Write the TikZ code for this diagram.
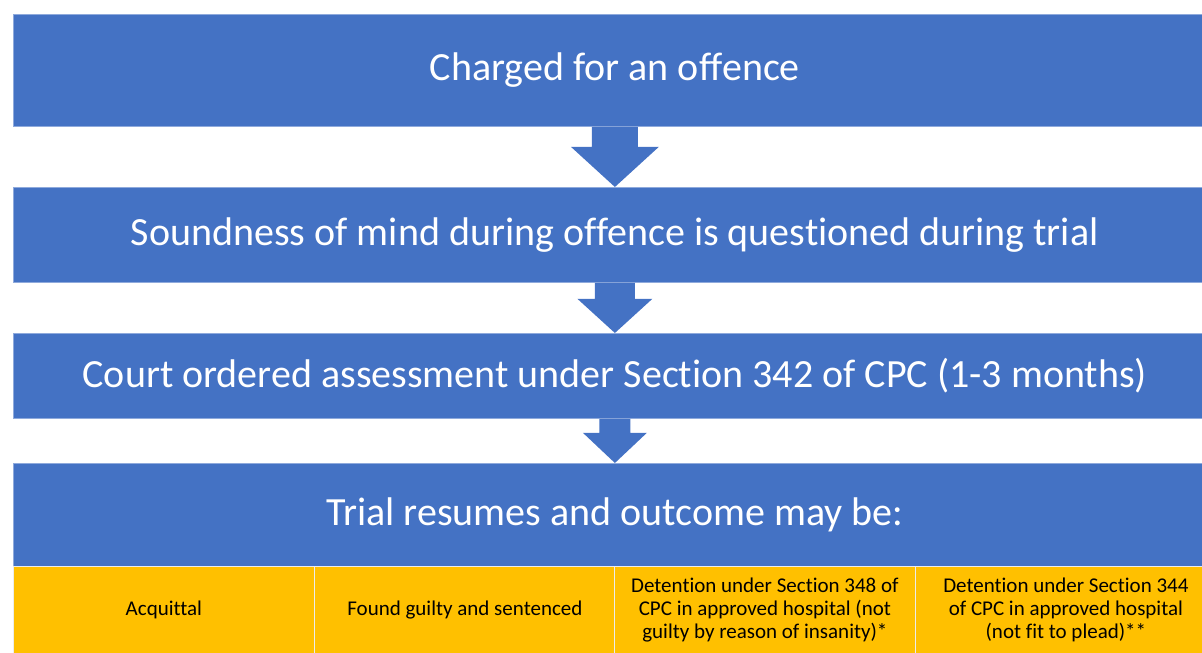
\documentclass[tikz,border=0pt]{standalone}
\usepackage{fontspec}
\setmainfont{Carlito}[Ligatures={NoCommon}]
\usetikzlibrary{calc}
\definecolor{bblue}{HTML}{4472C4}
\definecolor{byellow}{HTML}{FFC000}
\tikzset{
  bluebox/.style={fill=bblue, draw=bblue!60!white, line width=0.8pt, text=white, minimum width=1203pt, inner sep=0pt, anchor=north west, font=\fontsize{40}{46}\selectfont},
  cell/.style={fill=byellow, draw=white!85!gray, line width=0.8pt, text=black, minimum width=301pt, minimum height=87pt, inner sep=0pt, anchor=north west, align=center, font=\fontsize{21}{23}\selectfont},
}
\newcommand{\blockarrow}[5]{%
  \fill[bblue] let \p1=(#1.south), \p2=(#2.north) in
    ($(\x1-#3pt,\y1)$) -- ($(\x1-#3pt,\y1-#5pt)$) -- ($(\x1-#4pt,\y1-#5pt)$) -- (\x1,\y2)
    -- ($(\x1+#4pt,\y1-#5pt)$) -- ($(\x1+#3pt,\y1-#5pt)$) -- ($(\x1+#3pt,\y1)$) -- cycle;}
\begin{document}
\begin{tikzpicture}[x=1pt,y=-1pt]
\useasboundingbox (0,0) rectangle (1202,653);
\clip (0,0) rectangle (1202,653);
\node[bluebox, minimum height=112pt] (b1) at (13,14) {Charged for an offence};
\node[bluebox, minimum height=95pt] (b2) at (13,187) {Soundness of mind during offence is questioned during trial};
\node[bluebox, minimum height=85pt] (b3) at (13,333) {Court ordered assessment under Section 342 of CPC (1-3 months)};
\node[bluebox, minimum height=103pt] (b4) at (13,463) {Trial resumes and outcome may be:};
\node[cell] (c1) at (13,566) {Acquittal};
\node[cell] (c2) at (314,566) {Found guilty and sentenced};
\node[cell] (c3) at (614,566) {Detention under Section 348 of\\CPC in approved hospital (not\\guilty by reason of insanity)*};
\node[cell] (c4) at (915,566) {Detention under Section 344\\of CPC in approved hospital\\(not fit to plead)**};
\blockarrow{b1}{b2}{23}{44}{20}
\blockarrow{b2}{b3}{20}{37.5}{16}
\blockarrow{b3}{b4}{15.5}{32}{14}
\end{tikzpicture}
\end{document}
